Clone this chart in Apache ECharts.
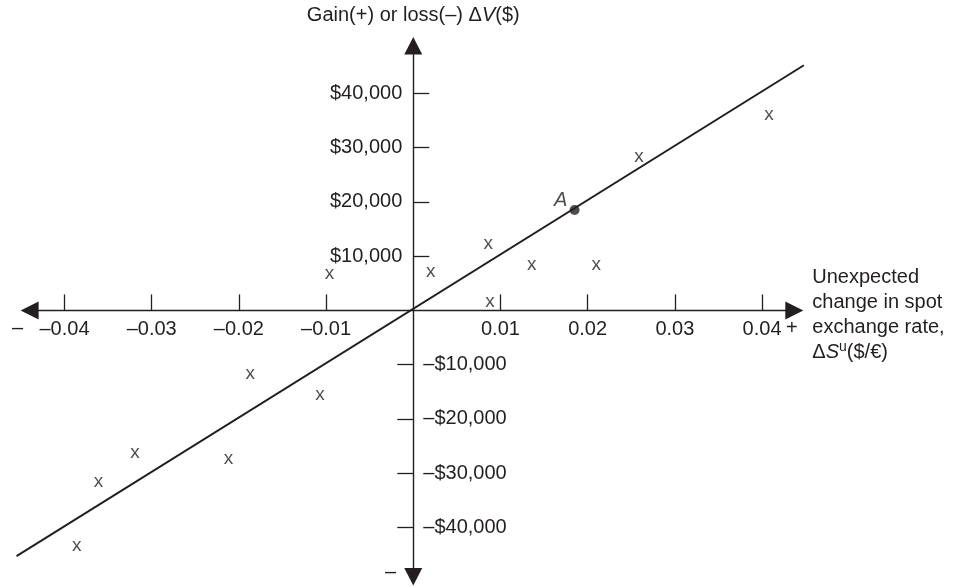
<!DOCTYPE html>
<html>
<head>
<meta charset="utf-8">
<script src="https://cdn.jsdelivr.net/npm/echarts@6/dist/echarts.min.js"></script>
<style>html,body{margin:0;padding:0;background:#fff}#c{width:962px;height:586px}</style>
</head>
<body>
<div id="c"></div>
<script>
// Observations ("x" marks): unexpected change in spot rate vs gain/loss
const obsX = [-0.0096, 0.0020, 0.0086, 0.0136, 0.0210, 0.0088, 0.0259, 0.0408, -0.0187, -0.0107, -0.0319, -0.0361, -0.0212, -0.0386];
const obsY = [6800, 7100, 12350, 8350, 8350, 1600, 28300, 36000, -11600, -15600, -26250, -31600, -27400, -43400];
// Regression line endpoints
const lineX = [-0.0455, 0.0448];
const lineY = [-45300, 45200];
// Point A
const pointAX = [0.0185];
const pointAY = [18500];
// Tick values
const xTicks = [-0.04, -0.03, -0.02, -0.01, 0.01, 0.02, 0.03, 0.04];
const yTicksPos = [10000, 20000, 30000, 40000];
const yTicksNeg = [-10000, -20000, -30000, -40000];

const FONT = '"Liberation Sans", Arial, Helvetica, sans-serif';
const INK = '#231f20';

function fmtMoney(v) {
  const s = '$' + Math.abs(v).toLocaleString('en-US');
  return v < 0 ? '\u2013' + s : s;
}
function fmtX(v) {
  const s = Math.abs(v).toFixed(2);
  return v < 0 ? '\u2013' + s : s;
}

const chart = echarts.init(document.getElementById('c'), null, {renderer: 'canvas'});
const X_MIN = -0.0440, X_MAX = 0.0437, Y_MIN = -49100, Y_MAX = 48800;
const G_LEFT = 29.6, G_WIDTH = 764.7, G_TOP = 45.7, G_HEIGHT = 531.1;
const SX = G_WIDTH / (X_MAX - X_MIN), SY = G_HEIGHT / (Y_MAX - Y_MIN);
// axes cross at the zero of the other axis
const zeroYpx = G_TOP + Y_MAX * SY;
const zeroXpx = G_LEFT - X_MIN * SX;
// second (hidden) grid with identical scale, sized to the regression line so it is not clipped
const LX_MIN = Math.min(...lineX), LX_MAX = Math.max(...lineX);
const LY_MIN = Math.min(...lineY), LY_MAX = Math.max(...lineY);
const grid2 = {
  left: zeroXpx + LX_MIN * SX, width: (LX_MAX - LX_MIN) * SX,
  top: zeroYpx - LY_MAX * SY, height: (LY_MAX - LY_MIN) * SY,
  containLabel: false, outerBoundsMode: 'none'
};

const option = {
  backgroundColor: '#fff',
  animation: false,
  textStyle: {fontFamily: FONT, color: INK},
  grid: [
    {left: G_LEFT, width: G_WIDTH, top: G_TOP, height: G_HEIGHT, containLabel: false, outerBoundsMode: 'none'},
    grid2
  ],
  xAxis: [{
    type: 'value', min: X_MIN, max: X_MAX, position: 'bottom', gridIndex: 0,
    offset: -(G_TOP + G_HEIGHT - zeroYpx),
    name: 'Unexpected\nchange in spot\nexchange rate,\n\u0394{i|S}{sup|u}($/\u20ac)',
    nameLocation: 'end', nameGap: 18,
    nameTextStyle: {
      fontFamily: FONT, fontSize: 20, color: INK, lineHeight: 25, align: 'left', padding: [9, 0, 0, 0],
      rich: {
        i: {fontStyle: 'italic', fontSize: 20, fontFamily: FONT, color: INK, lineHeight: 25},
        sup: {fontSize: 14, fontFamily: FONT, color: INK, verticalAlign: 'top', lineHeight: 25}
      }
    },
    axisLine: {onZero: false, symbol: ['triangle', 'triangle'], symbolSize: [18, 18], lineStyle: {color: INK, width: 1.4}},
    axisTick: {show: true, inside: true, length: 16, customValues: xTicks, lineStyle: {color: INK, width: 1.3}},
    axisLabel: {customValues: xTicks, formatter: fmtX, fontSize: 20, color: INK, fontFamily: FONT, margin: 9},
    splitLine: {show: false}
  }, {
    type: 'value', min: LX_MIN, max: LX_MAX, gridIndex: 1, show: false, splitLine: {show: false}
  }],
  yAxis: [{
    type: 'value', min: Y_MIN, max: Y_MAX, position: 'left', gridIndex: 0,
    offset: -(zeroXpx - G_LEFT),
    name: 'Gain(+) or loss(\u2013) \u0394{i|V}($)',
    nameLocation: 'end', nameGap: 20,
    nameTextStyle: {
      fontFamily: FONT, fontSize: 20, color: INK,
      rich: {i: {fontStyle: 'italic', fontSize: 20, fontFamily: FONT, color: INK}}
    },
    axisLine: {onZero: false, symbol: ['triangle', 'triangle'], symbolSize: [18, 17.5], lineStyle: {color: INK, width: 1.4}},
    axisTick: {show: true, inside: true, length: 16, customValues: yTicksPos, lineStyle: {color: INK, width: 1.3}},
    axisLabel: {customValues: yTicksPos, formatter: fmtMoney, fontSize: 20, color: INK, fontFamily: FONT, margin: 11},
    splitLine: {show: false}
  }, {
    type: 'value', min: Y_MIN, max: Y_MAX, position: 'right', gridIndex: 0,
    offset: -(G_LEFT + G_WIDTH - zeroXpx),
    axisLine: {show: false, onZero: false},
    axisTick: {show: true, inside: true, length: 16, customValues: yTicksNeg, lineStyle: {color: INK, width: 1.3}},
    axisLabel: {customValues: yTicksNeg, formatter: fmtMoney, fontSize: 20, color: INK, fontFamily: FONT, margin: 10},
    splitLine: {show: false}
  }, {
    type: 'value', min: LY_MIN, max: LY_MAX, gridIndex: 1, show: false, splitLine: {show: false}
  }],
  graphic: [
    {type: 'text', left: 12, top: 318, style: {text: '\u2013', font: '20px ' + FONT, fill: INK}},
    {type: 'text', left: 786, top: 318, style: {text: '+', font: '20px ' + FONT, fill: INK}},
    {type: 'text', left: 385, top: 562, style: {text: '\u2013', font: '20px ' + FONT, fill: INK}}
  ],
  series: [
    {
      type: 'line', clip: false, symbol: 'none', silent: true,
      xAxisIndex: 1, yAxisIndex: 2,
      data: lineX.map((x, i) => [x, lineY[i]]),
      lineStyle: {color: INK, width: 2}
    },
    {
      type: 'scatter', clip: false, silent: true, xAxisIndex: 0, yAxisIndex: 0,
      symbolSize: 1, itemStyle: {color: 'rgba(0,0,0,0)'},
      data: obsX.map((x, i) => [x, obsY[i]]),
      label: {show: true, position: 'inside', formatter: 'x', fontSize: 19, fontFamily: FONT, color: INK, offset: [0, 0]}
    },
    {
      type: 'scatter', clip: false, silent: true, xAxisIndex: 0, yAxisIndex: 0,
      symbol: 'circle', symbolSize: 10, itemStyle: {color: INK},
      data: pointAX.map((x, i) => [x, pointAY[i]]),
      label: {show: true, position: 'inside', offset: [-14, -10], formatter: 'A', fontSize: 20, fontStyle: 'italic', fontFamily: FONT, color: INK}
    }
  ]
};
chart.setOption(option);
</script>
</body>
</html>
